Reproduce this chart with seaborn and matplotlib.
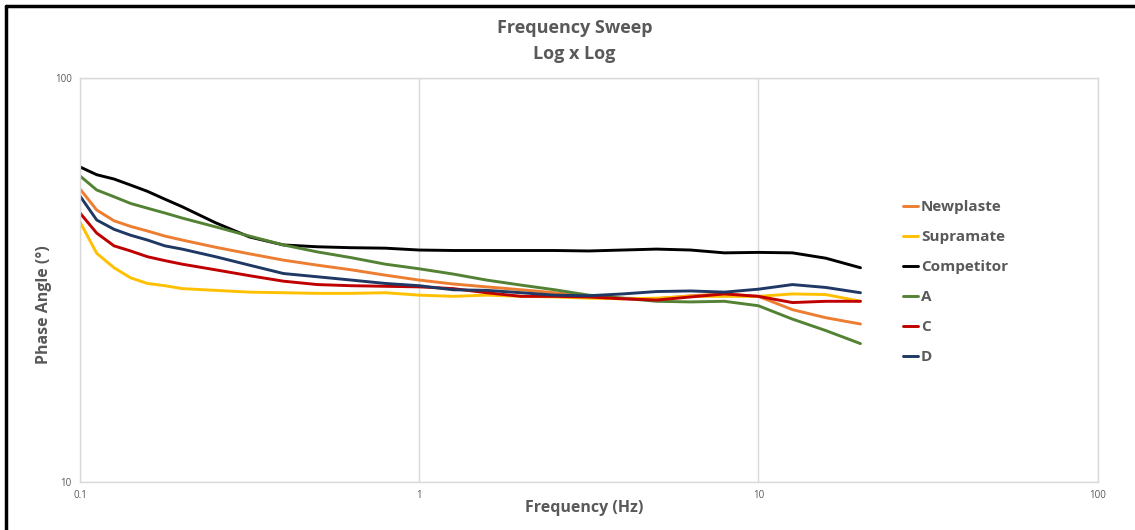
import numpy as np
import pandas as pd
import matplotlib
matplotlib.use("Agg")
import matplotlib.pyplot as plt
import seaborn as sns
from matplotlib.ticker import FixedLocator, NullLocator

# frequencies (denser in the first decade where the curves bend)
freq = [0.1, 0.112, 0.126, 0.141, 0.158, 0.178, 0.2, 0.251, 0.316, 0.398, 0.501, 0.631, 0.794,
        1.0, 1.26, 1.58, 2.0, 2.51, 3.16, 3.98, 5.01, 6.31, 7.94,
        10.0, 12.6, 15.8, 20.0]

newplaste = [53.1, 47.1, 44.3, 42.9, 41.8, 40.6, 39.7, 38.1, 36.7, 35.4, 34.4, 33.5, 32.5,
             31.6, 30.9, 30.4, 29.9, 29.4, 28.8, 28.5, 28.4, 28.9, 29.2,
             28.8, 26.7, 25.5, 24.6]
supramate = [44.0, 36.8, 33.9, 32.0, 31.0, 30.6, 30.1, 29.8, 29.5, 29.4, 29.3, 29.3, 29.4,
             29.0, 28.8, 29.0, 28.8, 28.7, 28.5, 28.4, 28.5, 28.8, 28.8,
             28.8, 29.2, 29.1, 28.0]
competitor = [60.2, 57.6, 56.2, 54.3, 52.4, 50.1, 48.0, 43.8, 40.4, 38.6, 38.2, 38.0, 37.9,
              37.5, 37.4, 37.4, 37.4, 37.4, 37.3, 37.5, 37.7, 37.5, 36.9,
              37.0, 36.9, 35.8, 33.9]
a_vals = [57.2, 52.8, 50.8, 48.9, 47.6, 46.3, 45.0, 42.8, 40.6, 38.6, 37.1, 35.9, 34.6,
          33.7, 32.7, 31.6, 30.7, 29.9, 29.0, 28.5, 28.0, 27.9, 28.0,
          27.3, 25.3, 23.7, 22.0]
c_vals = [46.3, 41.3, 38.4, 37.3, 36.1, 35.3, 34.6, 33.5, 32.4, 31.4, 30.8, 30.6, 30.5,
          30.4, 30.1, 29.4, 28.8, 28.8, 28.7, 28.4, 28.2, 28.7, 29.2,
          28.8, 27.8, 28.0, 28.0]
d_vals = [51.0, 44.5, 42.2, 40.8, 39.7, 38.4, 37.7, 36.1, 34.4, 32.8, 32.2, 31.6, 31.0,
          30.6, 29.9, 29.8, 29.4, 29.0, 28.9, 29.2, 29.6, 29.7, 29.5,
          30.0, 30.8, 30.3, 29.4]

names = ["Newplaste", "Supramate", "Competitor", "A", "C", "D"]
colors = ["#ED7D31", "#FFC000", "#000000", "#548235", "#C00000", "#203864"]

series = [newplaste, supramate, competitor, a_vals, c_vals, d_vals]
df = pd.concat(
    [pd.DataFrame({"Frequency": freq, "Phase": s, "Sample": n}) for n, s in zip(names, series)],
    ignore_index=True)

sns.set_style("white")
plt.rcParams["font.family"] = ["Open Sans", "DejaVu Sans"]
gray = "#595959"

fig = plt.figure(figsize=(11.35, 5.3), dpi=100)
ax = fig.add_axes([0.0705, 0.0906, 0.8965, 0.7624])

sns.lineplot(data=df, x="Frequency", y="Phase", hue="Sample", hue_order=names,
             palette=colors, linewidth=2.1, ax=ax, estimator=None, sort=False)

ax.set_xscale("log")
ax.set_yscale("log")
ax.set_xlim(0.1, 100)
ax.set_ylim(10, 100)
ax.xaxis.set_major_locator(FixedLocator([0.1, 1, 10, 100]))
ax.yaxis.set_major_locator(FixedLocator([10, 100]))
ax.xaxis.set_minor_locator(NullLocator())
ax.yaxis.set_minor_locator(NullLocator())
ax.set_xticklabels(["0.1", "1", "10", "100"])
ax.set_yticklabels(["10", "100"])
ax.tick_params(axis="both", length=0, labelsize=7, colors=gray, pad=6)
ax.grid(True, color="#D9D9D9", linewidth=1)
for sp in ax.spines.values():
    sp.set_color("#D9D9D9")
    sp.set_linewidth(1)

ax.set_xlabel("Frequency (Hz)", fontsize=11.5, fontweight="bold", color=gray)
ax.set_ylabel("Phase Angle (°)", fontsize=11.5, fontweight="bold", color=gray)
ax.xaxis.set_label_coords(0.495, -0.045)
ax.yaxis.set_label_coords(-0.0275, 0.44)

fig.text(0.506, 0.948, "Frequency Sweep", ha="center", va="center",
         fontsize=13, fontweight="bold", color=gray)
fig.text(0.506, 0.899, "Log x Log", ha="center", va="center",
         fontsize=13, fontweight="bold", color=gray)

leg = ax.legend(loc="upper left", bbox_to_anchor=(0.803, 0.713), frameon=False,
                fontsize=11, handlelength=1.0, handletextpad=0.15, labelspacing=1.05,
                borderaxespad=0)
for t in leg.get_texts():
    t.set_color(gray)
    t.set_fontweight("bold")

# outer frame (left and top edges visible)
fig.add_artist(plt.Line2D([0.0055, 0.0055], [0, 0.989], color="black", linewidth=2.5,
                          transform=fig.transFigure))
fig.add_artist(plt.Line2D([0.0055, 1.0], [0.989, 0.989], color="black", linewidth=2.5,
                          transform=fig.transFigure))

fig.savefig("out.png", dpi=100)
